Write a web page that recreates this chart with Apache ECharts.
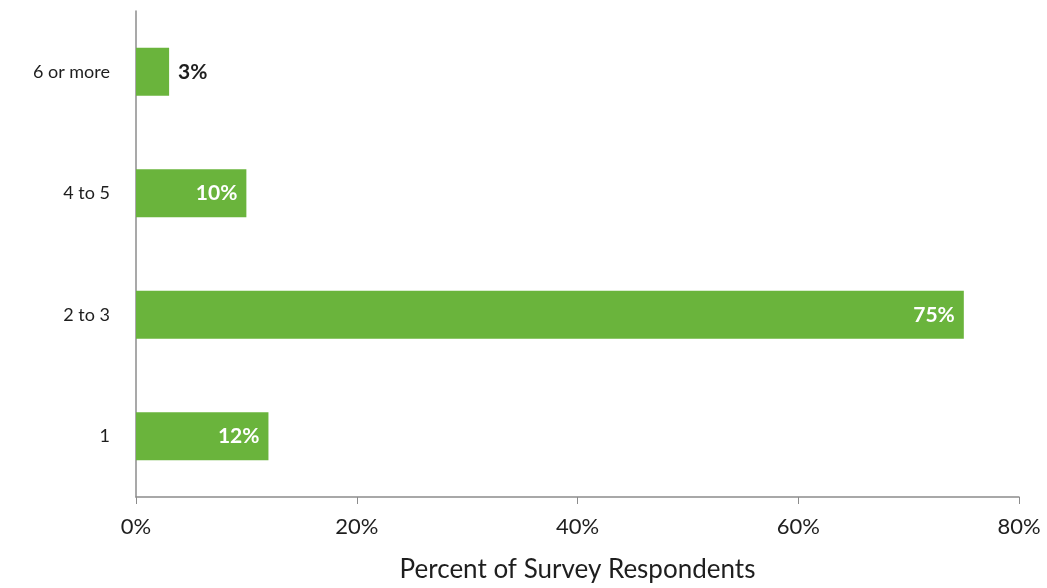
<!DOCTYPE html>
<html>
<head>
<meta charset="utf-8">
<script src="https://cdn.jsdelivr.net/npm/echarts@6/dist/echarts.min.js"></script>
<style>
  html, body { margin: 0; padding: 0; background: #fff; }
  #chart { width: 1047px; height: 588px; }
</style>
</head>
<body>
<div id="chart"></div>
<script>
// Household size groups, bottom to top
const categories = ['1', '2 to 3', '4 to 5', '6 or more'];
// Share of respondents, percent
const percents = [12, 75, 10, 3];
// Bars too short to hold their label get it outside
const labelOutside = [false, false, false, true];
const xTicks = [0, 20, 40, 60, 80];

const font = 'Lato, "Open Sans", sans-serif';
const green = '#6ab43c';
const ink = '#1e1e1e';

const chart = echarts.init(document.getElementById('chart'), null, { renderer: 'canvas' });

const data = percents.map((v, i) => ({
  value: v,
  label: labelOutside[i]
    ? { position: 'right', color: ink, distance: 9 }
    : { position: 'insideRight', color: '#fff', distance: 9 }
}));

chart.setOption({
  animation: false,
  grid: { left: 136, right: 28, top: 11, bottom: 87, containLabel: false },
  xAxis: {
    type: 'value',
    min: xTicks[0],
    max: xTicks[xTicks.length - 1],
    interval: 20,
    name: 'Percent of Survey Respondents',
    nameLocation: 'middle',
    nameGap: 60,
    nameTextStyle: { fontFamily: font, fontSize: 26, color: ink },
    axisLine: { show: true, lineStyle: { color: '#8c8c8c', width: 1.5 } },
    axisTick: { show: true, length: 7, lineStyle: { color: '#8c8c8c' } },
    axisLabel: {
      formatter: '{value}%',
      margin: 19,
      fontFamily: font,
      fontSize: 22,
      color: ink
    },
    splitLine: { show: false }
  },
  yAxis: {
    type: 'category',
    data: categories,
    axisLine: { show: true, lineStyle: { color: '#8c8c8c', width: 1.5 } },
    axisTick: { show: false },
    axisLabel: { margin: 26, fontFamily: font, fontSize: 18, color: ink }
  },
  series: [{
    type: 'bar',
    data: data,
    barWidth: 48,
    itemStyle: { color: green },
    label: {
      show: true,
      formatter: '{c}%',
      fontFamily: font,
      fontSize: 21,
      fontWeight: 'bold'
    }
  }]
});
</script>
</body>
</html>
